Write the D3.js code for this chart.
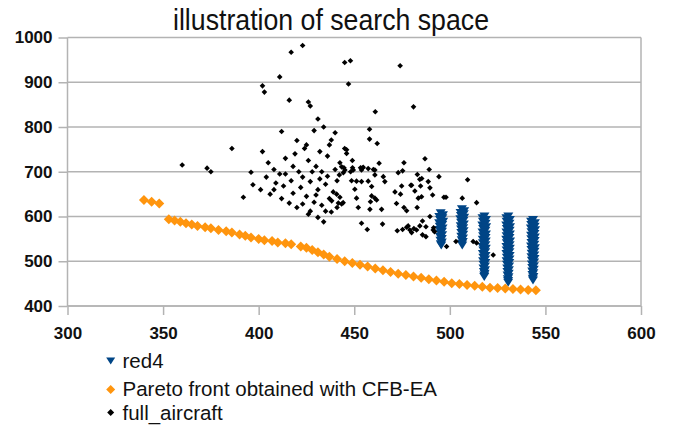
<!DOCTYPE html>
<html lang="en">
<head>
<meta charset="UTF-8">
<title>illustration of search space</title>
<script src="https://d3js.org/d3.v7.min.js"></script>
<style>
    * { margin: 0; padding: 0; }
    body { background: #fff; }
    text { font-family: "Liberation Sans", Arial, sans-serif; fill: #111; }
    .axis text { font-size: 17px; font-weight: bold; }
    .axis line, .axis path { stroke: #b3b3b3; stroke-width: 1.5px; }
</style>
</head>
<body>
<script>
var xTicks = [300, 350, 400, 450, 500, 550, 600];
var yTicks = [400, 500, 600, 700, 800, 900, 1000];
var seriesNames = ["red4", "Pareto front obtained with CFB-EA", "full_aircraft"];

// red4: five vertical clusters
var red4 = [
    [495.2,607],[496.4,603],[494.5,599],[496.1,596],[494.9,592],[496.5,588],[494.4,585],[496.0,581],[494.7,577],[496.2,573],
    [494.6,570],[495.9,566],[495.0,562],[496.0,558],[494.9,554],[495.8,550],[495.1,546],[495.8,542],[495.3,538],[495.5,535],
    [506.3,616],[507.5,612],[505.6,608],[507.3,605],[505.8,601],[507.5,597],[505.5,594],[507.1,590],[505.9,586],[507.3,582],
    [505.7,578],[507.0,574],[505.9,571],[507.2,567],[506.0,563],[507.0,559],[506.0,555],[506.9,551],[506.2,547],[506.8,543],
    [506.3,539],[506.5,535],
    [518.1,600],[517.1,596],[518.9,592],[517.3,588],[518.7,584],[517.0,580],[519.0,576],[517.4,572],[518.6,568],[517.1,564],
    [518.9,560],[517.4,556],[518.7,552],[517.2,548],[518.8,544],[517.3,540],[518.6,536],[517.1,532],[518.8,528],[517.5,524],
    [518.5,520],[517.3,516],[518.7,512],[517.5,508],[518.5,504],[517.4,500],[518.6,496],[517.6,492],[518.4,488],[517.6,484],
    [518.4,480],[517.8,476],[518.2,472],[518.0,468],[518.0,465],
    [530.6,600],[529.6,596],[531.4,592],[529.7,588],[531.2,584],[529.5,580],[531.5,576],[529.8,572],[531.3,568],[529.6,564],
    [531.4,560],[529.7,556],[531.2,552],[529.5,548],[531.5,544],[529.8,540],[531.3,536],[529.6,532],[531.4,528],[529.7,524],
    [531.2,520],[529.6,516],[531.3,512],[529.8,508],[531.2,504],[529.7,500],[531.1,496],[529.9,492],[531.0,488],[530.0,484],
    [530.9,480],[530.1,476],[530.8,472],[530.2,468],[530.7,464],[530.3,460],[530.5,456],[530.5,452],
    [543.5,592],[542.5,588],[544.5,585],[542.6,581],[544.4,577],[542.4,573],[544.6,569],[542.7,565],[544.3,561],[542.5,557],
    [544.5,553],[542.6,549],[544.4,545],[542.7,541],[544.2,537],[542.5,533],[544.5,529],[542.7,525],[544.3,521],[542.8,517],
    [544.2,513],[542.7,509],[544.3,505],[542.9,501],[544.1,497],[542.9,493],[544.0,489],[543.1,485],[543.9,481],[543.1,477],
    [543.7,473],[543.2,469],[543.7,465],[543.4,461],[543.5,457]
];

var paretoFront = [
    [340,637],[344,633],[348,629],[353,594],[356,591],[359,588],[362,585],[365,582],[368,579],[372,576],
    [375,574],[379,570],[383,567],[386,564],[390,560],[393,557],[396,553],[400,550],[403,547],[407,545],
    [410,542],[414,540],[417,538],[422,533],[425,530],[428,525],[431,520],[434,515],[437,510],[441,505],
    [445,500],[449,496],[453,492],[457,488],[461,484],[465,480],[469,476],[473,472],[477,469],[481,466],
    [485,463],[489,460],[493,457],[497,454],[501,451],[505,449],[509,447],[513,445],[517,443],[521,441],
    [525,440],[529,439],[533,438],[537,437],[541,436],[545,435]
];

var fullAircraft = [
    [417,967],[423,982],[411,912],[402,892],[403,878],[416,860],[426,856],[427,847],[445,944],[448,948],
    [474,937],[447,896],[461,834],[481,845],[431,818],[434,800],[440,787],[429,792],[458,795],[458,773],
    [462,763],[438,771],[445,752],[446,749],[446,741],[449,725],[487,729],[476,720],[463,719],[412,790],
    [420,770],[424,752],[386,752],[360,715],[373,708],[375,700],[396,699],[392,643],[397,671],[402,745],
    [405,720],[408,705],[411,695],[414,730],[418,712],[421,700],[426,725],[430,712],[433,700],[436,690],
    [404,688],[409,675],[413,668],[417,680],[422,665],[427,678],[431,660],[435,672],[439,655],[401,660],
    [406,650],[412,640],[418,652],[425,645],[429,632],[433,625],[437,640],[420,620],[426,605],[431,598],
    [434,588],[438,610],[441,620],[416,630],[423,688],[428,700],[432,684],[436,735],[440,705],[419,740],
    [425,760],[432,745],[437,760],[441,680],[427,612],[435,612],[423,628],[430,648],[414,695],[408,660],
    [444.6,709],[449.1,709],[453.3,709],[454.2,708],[457.3,707],[460,705],[442.2,693],[444.3,698],[448.1,700],[460.8,693],
    [465.2,689],[473,698],[475.3,702],[483,694],[489.2,705],[485.3,685],[494.3,689],[509.3,682],
    [442.5,720],[443.4,711],[445.1,704],[449.5,704],[453.8,704],[454.7,710],[460.8,704],
    [448.6,680],[451.2,679],[453.8,678],[457.3,679],[450.3,661],[459.1,667],[466,678],[471.3,655],[474.2,650],[479.6,670],
    [481.7,657],[484.3,683],[484.7,668],[488.7,678],[489.6,664],[491,648],[498,643],[474.8,668],[480,670],
    [442.5,643],[444.2,631],[451.2,641],[452.1,620],[459.1,646],[458.5,633],[460.8,641],[461.7,637],[458.2,616],[464.3,616],
    [472.1,629],[476,620],[477.4,613],[483.5,641],[482.9,620],[485.2,644],
    [453.8,585],[456.8,571],[464.8,583],[472.5,568],[475.3,571],[477.4,576],[478.2,579],[479.1,570],[480,564],[481.2,573],
    [482.6,570],[484.3,579],[485.7,590],[487.5,577],[485.7,559],[487.5,555],[489.6,600],[491.3,570],[491.5,575],[492,566],
    [514,631],[506.5,641],[496.9,643],[498.3,533],[503.2,544],[512.2,544],[514,541],[522.7,514],
    [440.8,650],[438.2,635],[441.7,630],[443.4,628]
];

var width = 677, height = 432;
var svg = d3.select("body").append("svg")
    .attr("width", width)
    .attr("height", height);

var x = d3.scaleLinear().domain([300, 600]).range([67.5, 641]);
var y = d3.scaleLinear().domain([400, 1000]).range([306, 37.5]);

function diamond(r) {
    return "M0," + (-r) + "L" + r + ",0L0," + r + "L" + (-r) + ",0Z";
}
function triDown(w, h) {
    return "M" + (-w / 2) + "," + (-h / 2) + "L" + (w / 2) + "," + (-h / 2) + "L0," + (h / 2) + "Z";
}

// title
svg.append("text")
    .attr("x", 331)
    .attr("y", 30)
    .attr("text-anchor", "middle")
    .attr("font-size", "30px")
    .attr("textLength", 316)
    .attr("lengthAdjust", "spacingAndGlyphs")
    .text("illustration of search space");

// gridlines
svg.append("g").selectAll("line")
    .data(yTicks)
    .enter()
    .append("line")
    .attr("x1", x(300))
    .attr("x2", x(600))
    .attr("y1", function (d) { return y(d); })
    .attr("y2", function (d) { return y(d); })
    .attr("stroke", "#b3b3b3")
    .attr("stroke-width", 1.5);

// right border
svg.append("line")
    .attr("x1", x(600)).attr("x2", x(600))
    .attr("y1", y(1000)).attr("y2", y(400))
    .attr("stroke", "#b3b3b3")
    .attr("stroke-width", 1.5);

svg.append("g")
    .attr("class", "axis y")
    .attr("transform", "translate(" + x(300) + ",0)")
    .call(d3.axisLeft(y).tickValues(yTicks).tickFormat(d3.format("d")).tickSize(9).tickPadding(6));

svg.append("g")
    .attr("class", "axis x")
    .attr("transform", "translate(0," + y(400) + ")")
    .call(d3.axisBottom(x).tickValues(xTicks).tickFormat(d3.format("d")).tickSize(9).tickPadding(12));

svg.select(".axis.x .domain").attr("d", "M" + x(300) + ",0H" + x(600));
svg.select(".axis.y .domain").attr("d", "M0," + y(1000) + "V" + y(400));

// red4
svg.append("g").selectAll("path")
    .data(red4)
    .enter()
    .append("path")
    .attr("transform", function (d) { return "translate(" + x(d[0]) + "," + y(d[1]) + ")"; })
    .attr("d", triDown(10, 8))
    .attr("fill", "#004586");

// pareto front
svg.append("g").selectAll("path")
    .data(paretoFront)
    .enter()
    .append("path")
    .attr("transform", function (d) { return "translate(" + x(d[0]) + "," + y(d[1]) + ")"; })
    .attr("d", diamond(5))
    .attr("fill", "#ff950e");

// full aircraft
svg.append("g").selectAll("path")
    .data(fullAircraft)
    .enter()
    .append("path")
    .attr("transform", function (d) { return "translate(" + x(d[0]) + "," + y(d[1]) + ")"; })
    .attr("d", diamond(2.8))
    .attr("fill", "#000");

// legend
var legendY = [361, 389.5, 412.5];
var legendBase = [367.5, 396, 419.5];
var legendMarks = [triDown(9, 7), diamond(4.5), diamond(3.5)];
var legendColors = ["#004586", "#ff950e", "#000"];
var legend = svg.append("g");
legend.selectAll("path")
    .data(seriesNames)
    .enter()
    .append("path")
    .attr("transform", function (d, i) { return "translate(110.7," + legendY[i] + ")"; })
    .attr("d", function (d, i) { return legendMarks[i]; })
    .attr("fill", function (d, i) { return legendColors[i]; });
legend.selectAll("text")
    .data(seriesNames)
    .enter()
    .append("text")
    .attr("x", 122.5)
    .attr("y", function (d, i) { return legendBase[i]; })
    .attr("font-size", "20.5px")
    .text(function (d) { return d; });
</script>
</body>
</html>
